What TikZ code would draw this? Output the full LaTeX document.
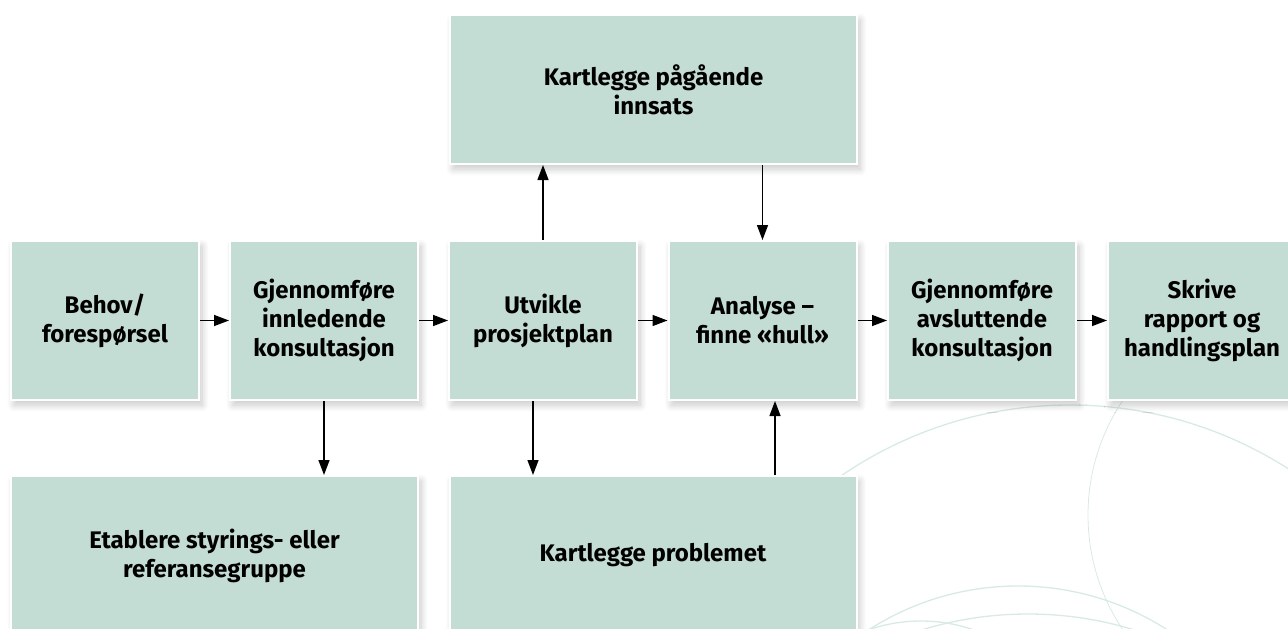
\documentclass[tikz,border=0pt]{standalone}
\usepackage{fontspec}
\setmainfont{Fira Sans}
\usepackage{tikz}
\usetikzlibrary{arrows.meta,shadows.blur}

\definecolor{boxgreen}{RGB}{196,221,212}
\definecolor{ringgreen}{RGB}{216,234,228}

\tikzset{
  stepbox/.style={rectangle, fill=boxgreen, draw=white, line width=2pt,
    minimum width=188pt, minimum height=159pt, align=center,
    font=\bfseries\fontsize{24}{29}\selectfont,
    blur shadow={shadow xshift=3pt, shadow yshift=-5pt, shadow blur steps=14, shadow blur radius=7pt, shadow opacity=22}},
  widebox/.style={stepbox, minimum width=407pt},
  ring/.style={draw=ringgreen, line width=1.3pt}
}

\begin{document}
\begin{tikzpicture}[x=1pt, y=-1pt]
        \useasboundingbox (0,0) rectangle (1288,629);
        \clip (0,0) rectangle (1288,629);
        % faint rings in the back
        \draw[ring] (1070,810) circle[radius=405pt];
        \draw[ring, line width=0.8pt] (1294,515) circle[radius=206pt];
        \draw[ring] (1018,862) circle[radius=276pt];
        \draw[ring] (1028,975) circle[radius=361pt];
        \draw[ring] (921,781) circle[radius=160pt];

        \node[stepbox] at (105,320.5) (behov) {Behov/\\forespørsel};
        \node[stepbox] at (324,320.5) (innled) {Gjennomføre\\innledende\\konsultasjon};
        \node[stepbox] at (543,320.5) (utvikle) {Utvikle\\prosjektplan};
        \node[stepbox] at (762.5,320.5) (analyse) {Analyse –\\finne «hull»};
        \node[stepbox] at (982,320.5) (avslutt) {Gjennomføre\\avsluttende\\konsultasjon};
        \node[stepbox] at (1202,320.5) (skrive) {Skrive\\rapport og\\handlingsplan};
        \node[widebox, minimum height=149pt] at (653.5,89.5) (pagaende) {Kartlegge pågående\\innsats};
        \node[widebox] at (214.5,555.5) (etablere) {Etablere styrings- eller\\referansegruppe};
        \node[widebox] at (653,555.5) (problemet) {Kartlegge problemet};

        \coordinate (utvdown) at ([xshift=-10pt]utvikle.south);
        \coordinate (anaup) at ([xshift=12.5pt]analyse.south);

        \path[->, line width=1.4pt, >={Triangle[length=15pt,width=11pt]}]
        (behov) edge (innled)
        (innled) edge (utvikle)
        (utvikle) edge (analyse)
        (analyse) edge (avslutt)
        (avslutt) edge (skrive)
        (innled.south) edge (innled.south |- etablere.north)
        (utvdown) edge (utvdown |- problemet.north)
        (anaup |- problemet.north) edge (anaup)
        (utvikle.north) edge (utvikle.north |- pagaende.south)
        (pagaende.south -| analyse.north) edge (analyse.north)
        ;
    \end{tikzpicture}
\end{document}
